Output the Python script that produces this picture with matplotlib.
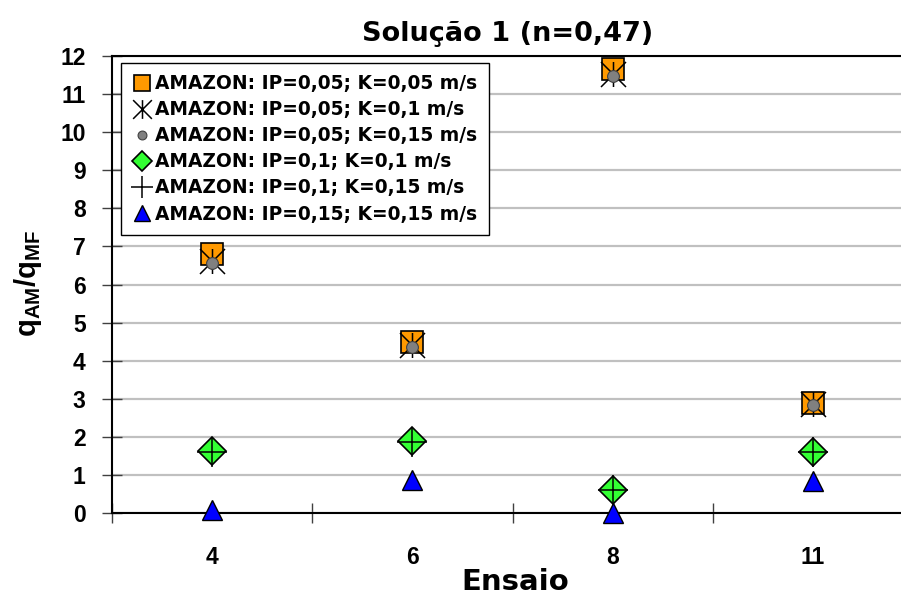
import matplotlib
matplotlib.use("Agg")
import matplotlib.pyplot as plt
from matplotlib.path import Path
import numpy as np

plt.rcParams['font.family'] = ['Liberation Sans', 'DejaVu Sans']
plt.rcParams['mathtext.fontset'] = 'custom'
plt.rcParams['mathtext.rm'] = 'Liberation Sans'
plt.rcParams['mathtext.bf'] = 'Liberation Sans:bold'

categories = ['4', '6', '8', '11']
series_labels = [
    'AMAZON: IP=0,05; K=0,05 m/s',
    'AMAZON: IP=0,05; K=0,1 m/s',
    'AMAZON: IP=0,05; K=0,15 m/s',
    'AMAZON: IP=0,1; K=0,1 m/s',
    'AMAZON: IP=0,1; K=0,15 m/s',
    'AMAZON: IP=0,15; K=0,15 m/s',
]
ip005_k005 = [6.8, 4.48, 11.65, 2.88]
ip005_k01 = [6.62, 4.4, 11.52, 2.85]
ip005_k015 = [6.57, 4.37, 11.48, 2.83]
ip01_k01 = [1.64, 1.89, 0.6, 1.61]
ip01_k015 = [1.6, 1.86, 0.6, 1.6]
ip015_k015 = [0.08, 0.86, 0.0, 0.85]

asterisk = Path([(0, -1), (0, 1), (-1, -1), (1, 1), (-1, 1), (1, -1)],
                [Path.MOVETO, Path.LINETO, Path.MOVETO, Path.LINETO, Path.MOVETO, Path.LINETO])

W, H = 901, 597
fig = plt.figure(figsize=(W / 100, H / 100), dpi=100)
ax = fig.add_axes([112 / W, 1 - 513 / H, 801 / W, (513 - 56) / H])

x = np.arange(len(categories))
styles = [
    dict(marker='s', markersize=16, markerfacecolor='#FF9900', markeredgecolor='black', markeredgewidth=1.2),
    dict(marker=asterisk, markersize=18, markerfacecolor='none', markeredgecolor='black', markeredgewidth=1.1),
    dict(marker='o', markersize=8.5, markerfacecolor='#808080', markeredgecolor='#404040', markeredgewidth=0.8),
    dict(marker='D', markersize=14, markerfacecolor='#33FF33', markeredgecolor='black', markeredgewidth=1.2),
    dict(marker='+', markersize=21, markerfacecolor='none', markeredgecolor='black', markeredgewidth=1.1),
    dict(marker='^', markersize=15, markerfacecolor='#0000FF', markeredgecolor='black', markeredgewidth=1.0),
]
all_series = [ip005_k005, ip005_k01, ip005_k015, ip01_k01, ip01_k015, ip015_k015]
handles = []
for vals, lab, st in zip(all_series, series_labels, styles):
    h, = ax.plot(x, vals, linestyle='none', label=lab, clip_on=False, zorder=3, **st)
    handles.append(h)

ax.set_xlim(-0.5, 3.5)
ax.set_ylim(0, 12)
ax.set_yticks(np.arange(0, 13, 1))
ax.set_yticklabels([str(v) for v in range(13)], fontsize=16.5, fontweight='bold')
ax.set_xticks(x)
ax.set_xticklabels(categories, fontsize=16.5, fontweight='bold')
ax.tick_params(axis='x', which='major', length=0, pad=24)
ax.set_xticks(np.arange(-0.5, 3.6, 1), minor=True)
ax.tick_params(axis='x', which='minor', length=14, direction='inout', width=1, color='#404040')
ax.tick_params(axis='y', which='major', length=14, direction='inout', width=1, color='#404040', pad=12)

ax.grid(axis='y', color='#c0c0c0', linewidth=1.6, zorder=0)
ax.set_axisbelow(True)
for s in ['left', 'bottom', 'top']:
    ax.spines[s].set_color('black')
    ax.spines[s].set_linewidth(1.5)
ax.spines['right'].set_visible(False)

fig.text(508 / W, 1 - 34 / H, 'Solução 1 (n=0,47)', ha='center', va='center', fontsize=19.5,
         fontweight='bold', family='DejaVu Sans')
fig.text(515 / W, 1 - 582 / H, 'Ensaio', ha='center', va='center', fontsize=21,
         fontweight='bold', family='DejaVu Sans')
fig.text(28 / W, 1 - 283 / H, r'$\mathbf{q}_{\mathbf{AM}}\mathbf{/q}_{\mathbf{MF}}$', ha='center', va='center',
         rotation=90, fontsize=21)

leg = ax.legend(handles=handles, loc='upper left', bbox_to_anchor=(121 / W, 1 - 63 / H),
                bbox_transform=fig.transFigure,
                prop=dict(family='DejaVu Sans', weight='bold', size=13.4), markerscale=0.75,
                frameon=True, fancybox=False, edgecolor='black', framealpha=1,
                handlelength=1.05, handletextpad=0.2, borderpad=0.6, labelspacing=0.38,
                borderaxespad=0)
leg.get_frame().set_linewidth(1.0)

fig.savefig('out.png', dpi=100)
